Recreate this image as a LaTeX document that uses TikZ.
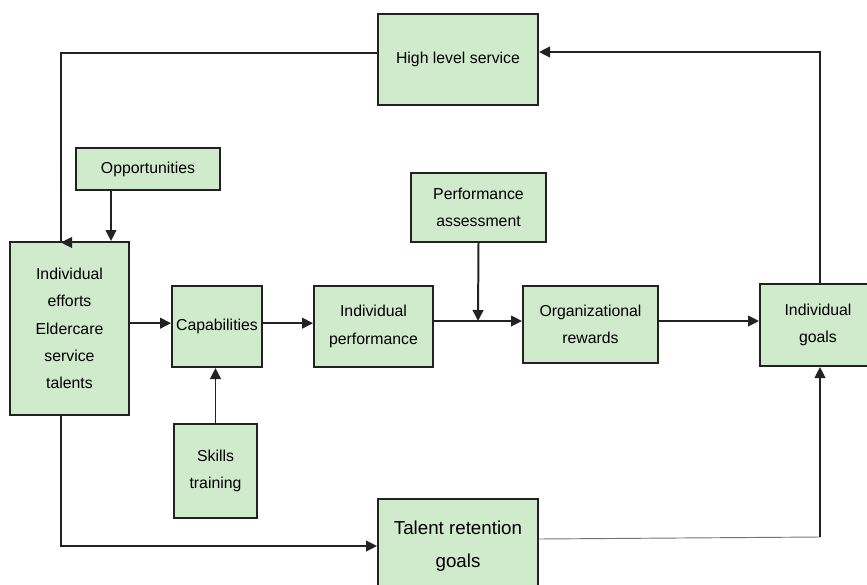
\documentclass[tikz,border=0pt]{standalone}
\usepackage{fontspec}
\setmainfont{Liberation Sans}
\usetikzlibrary{arrows.meta}
\definecolor{boxgreen}{RGB}{208,234,204}
\definecolor{linegray}{RGB}{34,34,34}
\tikzset{
	box/.style 2 args={draw=linegray, fill=boxgreen, line width=1.7pt, align=center, inner sep=0pt,
		minimum width=#1*0.03cm, minimum height=#2*0.03cm, font=\fontsize{13.5}{23.3}\selectfont},
	wire/.style={draw=linegray, line width=1.7pt},
	link/.style={wire, -{Triangle[length=0.33cm,width=0.32cm]}},
	thinwire/.style={draw=black!55, line width=0.8pt}
}

\begin{document}
\begin{tikzpicture}[x=0.03cm, y=-0.03cm]
			\useasboundingbox (0, 0) rectangle (867, 584);
			%%%%% START %%%%%
			\node[box={160}{91}] (high) at (458, 59.5) {High level service};
			\node[box={144}{42}] (opp) at (148, 169) {Opportunities};
			\node[box={135}{69}] (assess) at (478.5, 207.5) {Performance\\assessment};
			\node[box={119}{173}] (effort) at (69.5, 328.5) {Individual\\efforts\\Eldercare\\service\\talents};
			\node[box={90}{81}] (cap) at (217, 326.5) {Capabilities};
			\node[box={119}{81}] (perf) at (373.5, 326.5) {Individual\\performance};
			\node[box={135}{77}] (reward) at (590.5, 324.5) {Organizational\\rewards};
			\node[box={116}{82}] (goals) at (818, 325) {Individual\\goals};
			\node[box={83}{94}] (skills) at (215.5, 471) {Skills\\training};
			\node[box={160}{94}, font=\fontsize{16}{28}\selectfont] (talent) at (458, 546) {Talent retention\\goals};
			
			\coordinate (tl) at (61, 53);
			\coordinate (effin) at (61, 242.5);
			\coordinate (oppout) at ([xshift=-1.11cm]opp.south);
			\coordinate (capin) at ([yshift=0.1cm]cap.west);
			\coordinate (mid) at (478, 321);
			\coordinate (tr) at (820, 52);
			\coordinate (bl) at (61, 546);
			\coordinate (talout) at ([yshift=0.21cm]talent.east);
			\coordinate (br) at (820, 537);
			
			\draw[wire] (high.west |- tl) -- (tl) -- (effin);
			\draw[link] ([xshift=0.3cm]effin) -- (effin);
			\draw[link] (oppout) -- (oppout |- effort.north);
			\draw[link] (effort.east |- capin) -- (capin);
			\draw[link] ([yshift=0.1cm]cap.east) -- ([yshift=0.1cm]perf.west);
			\draw[link] (perf.east |- mid) -- (reward.west |- mid);
			\draw[link] (assess.south) -- (mid);
			\draw[link] (reward.east |- mid) -- (goals.west |- mid);
			\draw[link] (goals.north -| tr) -- (tr) -- (high.east |- tr);
			\draw[link] (skills.north) -- (skills.north |- cap.south);
			\draw[link] (effort.south -| bl) -- (bl) -- (talent.west |- bl);
			\draw[thinwire] (talout) -- (br);
			\draw[link] (br) -- (goals.south -| br);
			%%%%% END %%%%%
		\end{tikzpicture}
\end{document}
